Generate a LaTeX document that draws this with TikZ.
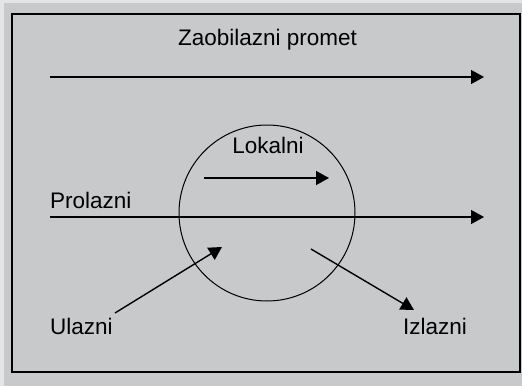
\documentclass[tikz,border=0pt]{standalone}
\usepackage{fontspec}
\setmainfont{Liberation Sans}
\usetikzlibrary{arrows.meta}
\definecolor{bgout}{HTML}{E4E4E4}
\definecolor{bgin}{HTML}{C8C9CB}
\begin{document}
\begin{tikzpicture}[x=1pt,y=-1pt,
  lbl/.style={inner sep=0pt,font=\fontsize{22.5}{26}\selectfont},
  flow/.style={line width=1.4pt,-{Triangle[length=13pt,width=14pt]}},
  frame/.style={line width=1.5pt}]
\useasboundingbox (0,0) rectangle (522,386);
\fill[bgout] (0,0) rectangle (522,386);
\fill[bgin] (4,3) rectangle (522,386);
\draw[frame] (12,14) rectangle (520,372);
% labels
\node[lbl,anchor=base] (title) at (267.5,45) {Zaobilazni promet};
\node[lbl,anchor=base] (lok) at (268,153) {Lokalni};
\node[lbl,anchor=base west] (pro) at (50,208) {Prolazni};
\node[lbl,anchor=base west] (ula) at (50,334) {Ulazni};
\node[lbl,anchor=base west] (izl) at (403,334) {Izlazni};
% circle
\node[draw,circle,line width=1pt,minimum size=176pt,inner sep=0pt] (zone) at (267,213) {};
% coordinates
\coordinate (z1) at (50,77);
\coordinate (z2) at (484,77);
\coordinate (p1) at (50,217);
\coordinate (p2) at (484,217);
\coordinate (l1) at (204,178);
\coordinate (l2) at (329,178);
\coordinate (u1) at (115,313);
\coordinate (u2) at (222,247);
\coordinate (i1) at (311,249);
\coordinate (i2) at (414,310);
\draw[flow] (z1) -- (z2);
\draw[flow] (p1) -- (p2);
\draw[flow] (l1) -- (l2);
\draw[flow] (u1) -- (u2);
\draw[flow] (i1) -- (i2);
\end{tikzpicture}
\end{document}
